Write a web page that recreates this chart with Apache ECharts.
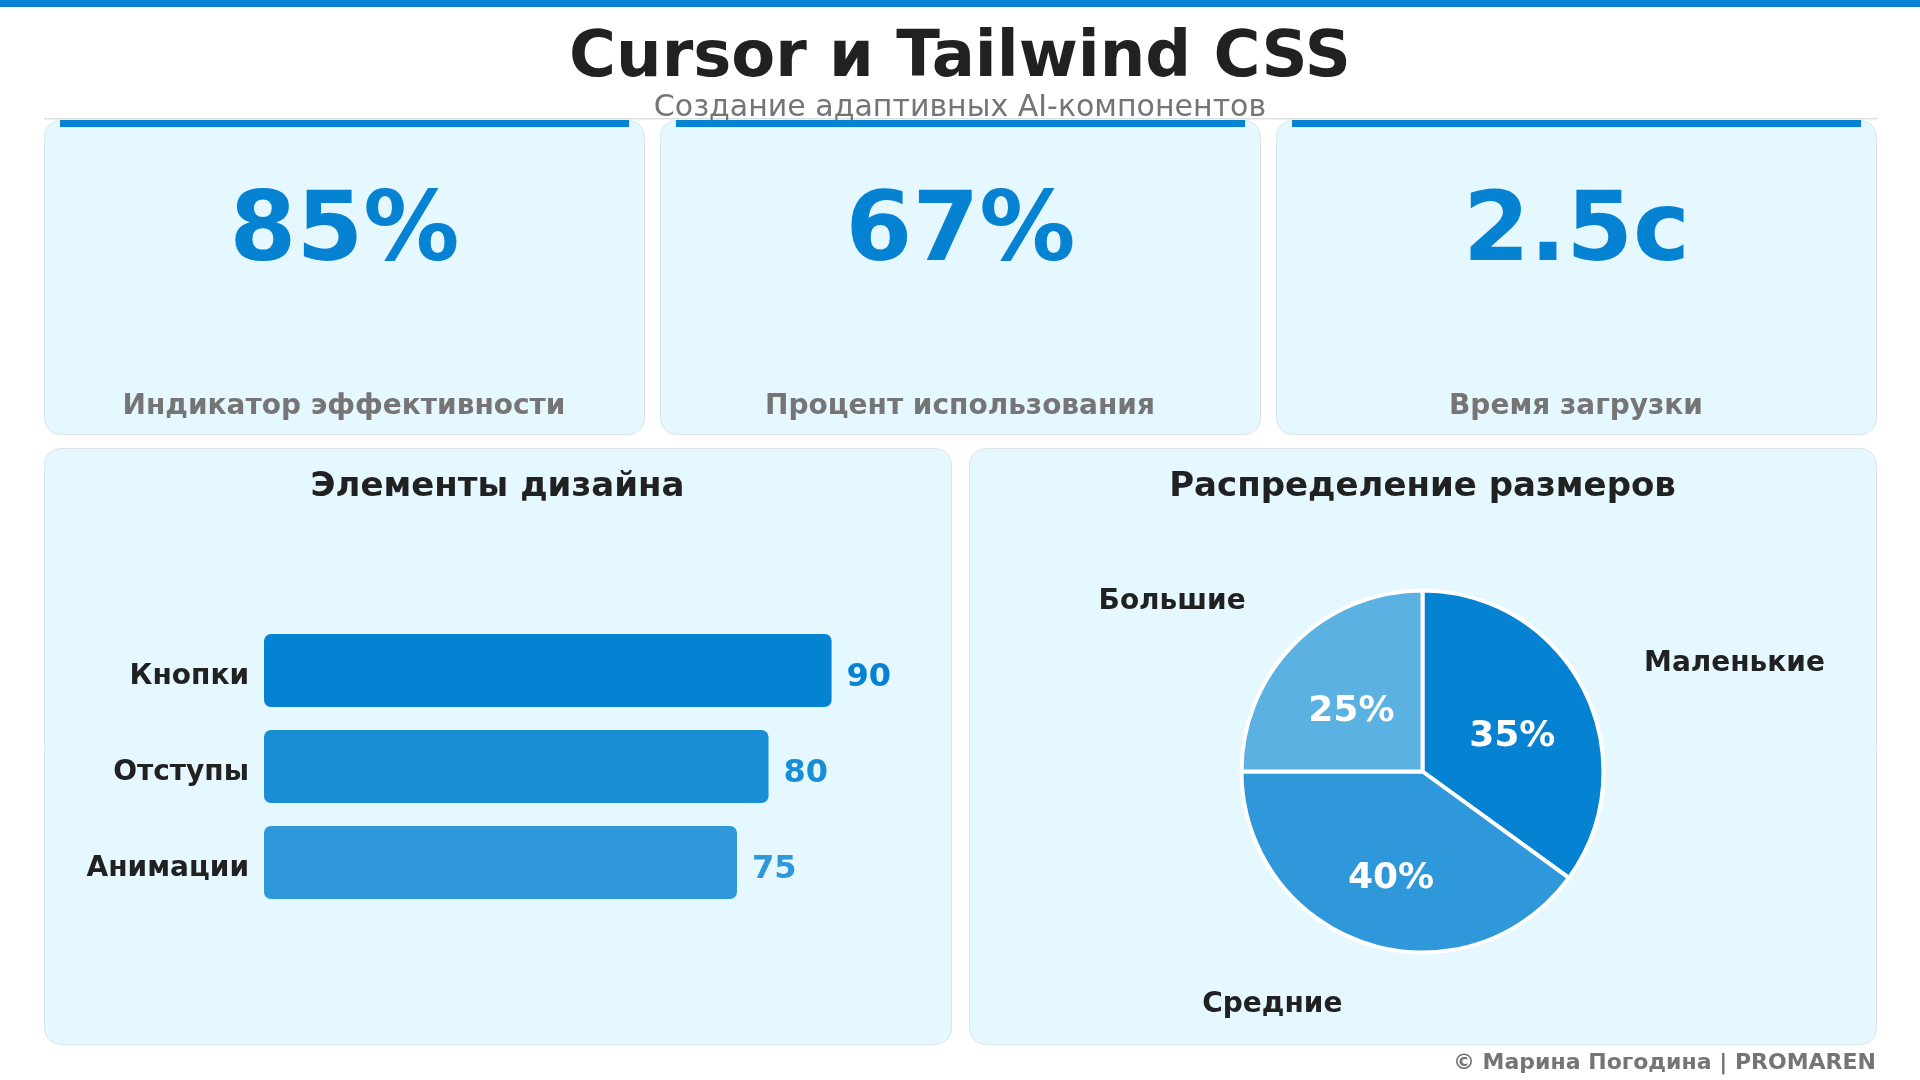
<!DOCTYPE html>
<html><head><meta charset="utf-8">
<style>html,body{margin:0;padding:0;background:#fff}#c{width:1920px;height:1080px}</style>
<script src="https://cdn.jsdelivr.net/npm/echarts@6/dist/echarts.min.js"></script>
</head><body><div id="c"></div>
<script>
const titleText = 'Cursor и Tailwind CSS';
const subtitleText = 'Создание адаптивных AI-компонентов';
const statValues = ['85%', '67%', '2.5с'];
const statLabels = ['Индикатор эффективности', 'Процент использования', 'Время загрузки'];
const barTitle = 'Элементы дизайна';
const pieTitle = 'Распределение размеров';
const barCategories = ['Кнопки', 'Отступы', 'Анимации'];
const barValues = [90, 80, 75];
const pieNames = ['Маленькие', 'Средние', 'Большие'];
const pieValues = [35, 40, 25];
const footerText = '© Марина Погодина | PROMAREN';

const BLUE = '#0682D2', DARK = '#212121', GRAY = '#757575';
const barColors = [BLUE, '#1A8ED5', '#2F98DA'];
const pieColors = [BLUE, '#2F98DA', '#5BB1E2'];
const pieLabelOffsets = [[6.5, 8], [-2.5, 18], [-5, 6]];
const FONT = '"DejaVu Sans", sans-serif';
const CARD = '#E5F7FF', EDGE = '#DDE4E8';

function txt(x, y, text, size, weight, fill, align) {
  return {type: 'text', z: 5, style: {x, y, text, fontFamily: FONT, fontSize: size, fontWeight: weight, fill, align: align || 'center', verticalAlign: 'middle'}};
}
function card(x, y, w, h) {
  return {type: 'rect', z: 1, shape: {x: x + .5, y: y + .5, width: w, height: h, r: 16}, style: {fill: CARD, stroke: EDGE, lineWidth: 1}};
}
const statX = [44, 660, 1276];
const gfx = [
  {type: 'rect', z: 1, shape: {x: 0, y: 0, width: 1920, height: 7}, style: {fill: BLUE}},
  txt(960, 59, titleText, 64, 'bold', DARK),
  txt(960, 108, subtitleText, 30, 'normal', GRAY),
  {type: 'rect', z: 0, shape: {x: 44, y: 118, width: 1833, height: 1.5}, style: {fill: '#E0E0E0'}},
  card(44, 448, 907, 596), card(969, 448, 907, 596),
  txt(497.5, 487.5, barTitle, 34, 'bold', DARK),
  txt(1422.5, 487.5, pieTitle, 34, 'bold', DARK),
  txt(1876, 1063, footerText, 22, 'bold', GRAY, 'right')
];
statX.forEach((x, i) => {
  gfx.push(card(x, 120, 600, 314));
  gfx.push({type: 'rect', z: 2, shape: {x: x + 16, y: 120, width: 569, height: 7}, style: {fill: BLUE}});
  gfx.push(txt(x + 300.5, 235.5, statValues[i], 96, 'bold', BLUE));
  gfx.push(txt(x + 300, 406.5, statLabels[i], 28, 'bold', GRAY));
});

const chart = echarts.init(document.getElementById('c'), null, {renderer: 'canvas', width: 1920, height: 1080});
const pieBase = {type: 'pie', center: [1422.5, 771.5], radius: [0, 181], startAngle: 90, clockwise: true,
  avoidLabelOverlap: false, silent: true, animation: false};
chart.setOption({
  animation: false,
  backgroundColor: '#fff',
  graphic: {elements: gfx},
  grid: {left: 264, top: 622.5, width: 567.6, height: 288, containLabel: false},
  xAxis: {type: 'value', min: 0, max: 90, show: false},
  yAxis: {type: 'category', inverse: true, data: barCategories, z: 6,
    axisLine: {show: false}, axisTick: {show: false}, splitLine: {show: false},
    axisLabel: {margin: 15, verticalAlign: 'top', lineHeight: 12, fontFamily: FONT, fontSize: 28, fontWeight: 'bold', color: DARK}},
  series: [
    {type: 'bar', barWidth: 73, animation: false, silent: true,
      data: barValues.map((v, i) => ({value: v, itemStyle: {color: barColors[i], borderRadius: 7}})),
      label: {show: true, position: 'right', distance: 15, offset: [0, 7], fontFamily: FONT, fontSize: 32, fontWeight: 'bold', color: 'inherit'}},
    Object.assign({}, pieBase, {
      data: pieValues.map((v, i) => ({name: pieNames[i], value: v, itemStyle: {color: pieColors[i]}})),
      itemStyle: {borderColor: '#fff', borderWidth: 4},
      label: {show: true, position: 'outside', formatter: '{b}', distanceToLabelLine: 5, offset: [0, 2.5], fontFamily: FONT, fontSize: 28, fontWeight: 'bold', color: DARK},
      labelLine: {show: false, length: 62, length2: 0}
    }),
    Object.assign({}, pieBase, {
      data: pieValues.map((v, i) => ({name: pieNames[i], value: v, label: {offset: pieLabelOffsets[i]}})),
      itemStyle: {color: 'rgba(0,0,0,0)', borderWidth: 0},
      label: {show: true, position: 'inside', formatter: '{c}%', fontFamily: FONT, fontSize: 36, fontWeight: 'bold', color: '#fff'},
      labelLine: {show: false}
    })
  ]
});
</script></body></html>
